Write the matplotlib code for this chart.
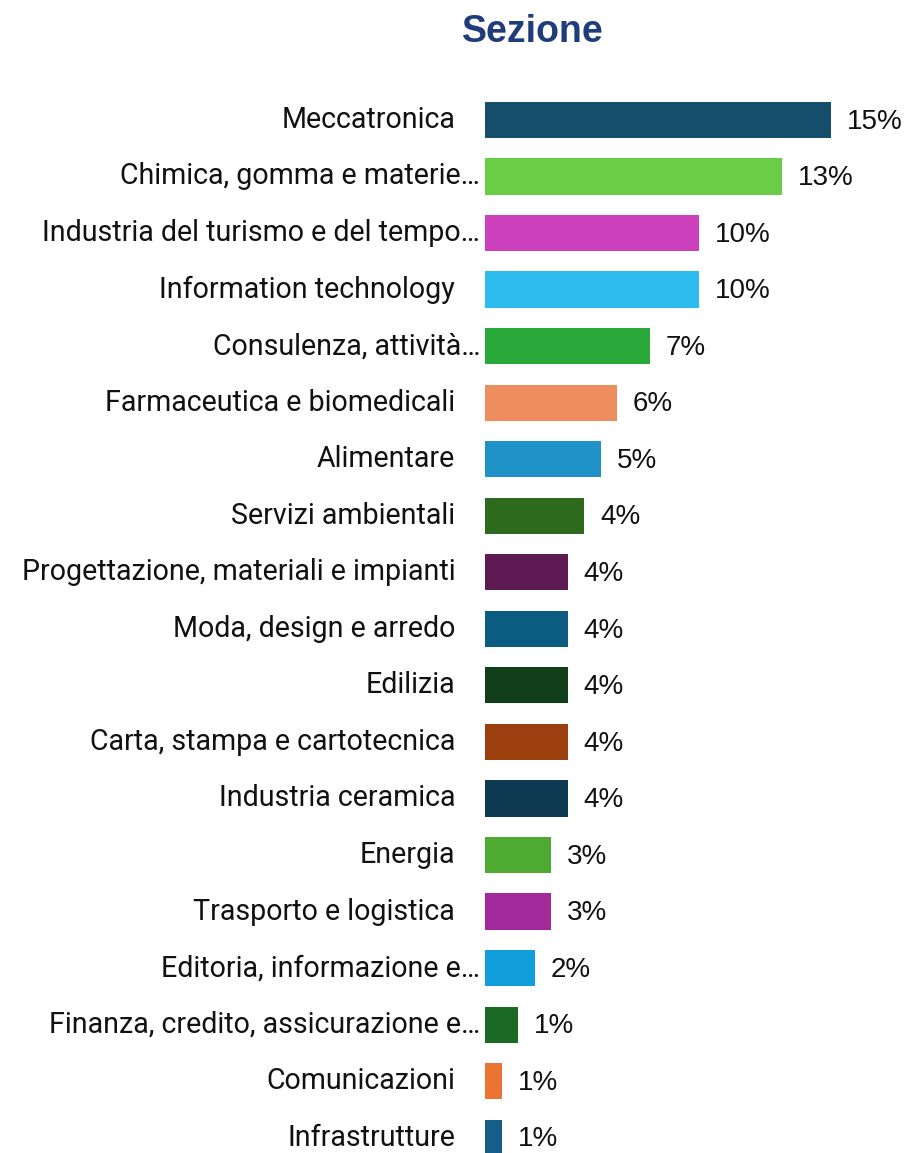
import matplotlib.pyplot as plt
import matplotlib.transforms as mtransforms

# sectors, shares (%) and bar colours
sectors = [
    "Meccatronica",
    "Chimica, gomma e materie…",
    "Industria del turismo e del tempo…",
    "Information technology",
    "Consulenza, attività…",
    "Farmaceutica e biomedicali",
    "Alimentare",
    "Servizi ambientali",
    "Progettazione, materiali e impianti",
    "Moda, design e arredo",
    "Edilizia",
    "Carta, stampa e cartotecnica",
    "Industria ceramica",
    "Energia",
    "Trasporto e logistica",
    "Editoria, informazione e…",
    "Finanza, credito, assicurazione e…",
    "Comunicazioni",
    "Infrastrutture",
]
shares = [15.44, 13.24, 9.56, 9.56, 7.35, 5.88, 5.15, 4.41, 3.68, 3.68, 3.68,
          3.68, 3.68, 2.94, 2.94, 2.21, 1.47, 0.74, 0.74]
colors = ["#154E6A", "#6ACD46", "#CC40BD", "#2EBBEE", "#29A93A", "#EE8D5E",
          "#1F92C8", "#2E6B1F", "#5E1A52", "#0B5C80", "#113F1A", "#9B3F0F",
          "#0E3952", "#4FAA31", "#A2299A", "#119FDC", "#1B6B26", "#EB7432",
          "#155E87"]

fig = plt.figure(figsize=(9.07, 11.53), dpi=100)
ax = fig.add_axes([0.535, 0.0, 0.465, 0.9205])

ypos = list(range(len(sectors)))
ax.barh(ypos, shares, height=0.64, color=colors)
ax.set_xlim(0, 18.84)
ax.set_ylim(18.27, -0.5)
ax.axis("off")

# category labels: truncated ones sit a bit closer to the bars
for y, name in zip(ypos, sectors):
    dx = -5 if name.endswith("…") else -30
    tr = ax.transData + mtransforms.ScaledTranslation(dx / 100, 0, fig.dpi_scale_trans)
    ax.text(0, y, name, transform=tr, ha="right", va="center",
            fontsize=20.6, family="Roboto", color="#111111")

# value labels
for y, v in zip(ypos, shares):
    tr = ax.transData + mtransforms.ScaledTranslation(16 / 100, 0, fig.dpi_scale_trans)
    ax.text(v, y + 0.03, f"{v:.0f}%", transform=tr, ha="left", va="center",
            fontsize=20, family="Liberation Sans", color="#111111")

fig.text(0.588, 0.972, "Sezione", ha="center", va="center", fontsize=27,
         fontweight="bold", family="Liberation Sans", color="#1F3D7A")

fig.savefig("out.png", dpi=100)
